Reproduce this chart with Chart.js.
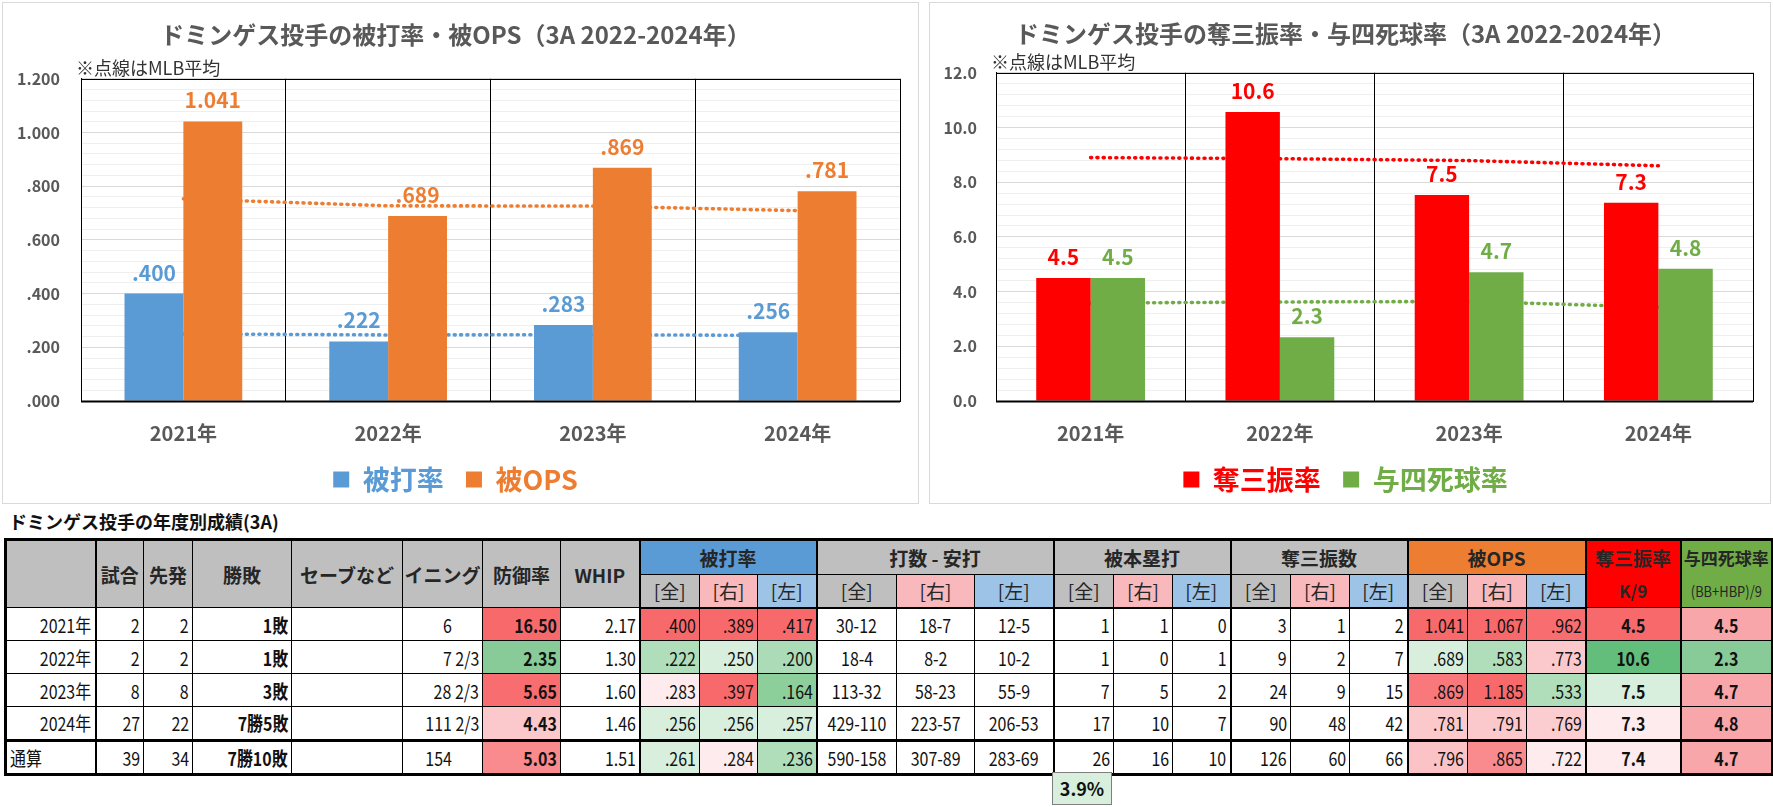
<!DOCTYPE html>
<html lang="ja">
<head>
<meta charset="utf-8">
<title>ドミンゲス投手 3A成績</title>
<script src="https://cdn.jsdelivr.net/npm/chart.js@4.4.1/dist/chart.umd.min.js"></script>
<style>
  body { margin: 0; background: #fff; font-family: 'Liberation Sans Narrow', 'Noto Sans CJK JP', sans-serif; }
  #page { position: relative; width: 1773px; height: 807px; overflow: hidden; }
  .panel { position: absolute; top: 2px; height: 500px; border: 1px solid #d9d9d9; background: #fff; }
  #leftPanel { left: 2px; width: 915px; }
  #rightPanel { left: 929px; width: 840px; }
  .panel canvas { display: block; }
  #tableTitle { position: absolute; left: 9px; top: 509px; font-size: 18px; font-weight: bold; color: #111; line-height: 24px; }
  #stats { position: absolute; left: 4px; top: 538px; border-collapse: collapse; table-layout: fixed; width: 1767px;
           border: 3px solid #000; font-size: 19px; color: #111; }
  #stats td, #stats th { border: 1px solid #000; padding: 0 3px; white-space: nowrap; overflow: hidden; }
  #stats th { background: #bfbfbf; font-weight: bold; font-size: 19px; color: #262626; text-align: center; padding: 0; }
  #stats th.sub { font-weight: normal; }
  #stats .gl { border-left: 2px solid #000; }
  #stats thead tr:last-child th { border-bottom: 2px solid #000; }
  #stats tr.total td { border-top: 3px solid #000; }
  #stats td.r { text-align: right; }
  #stats td.l { text-align: left; }
  #stats td.c { text-align: center; }
  #stats td.b { font-weight: bold; }
  #stats td .n { display: inline-block; transform: scaleX(0.84); }
  #stats td.r .n { transform-origin: right center; }
  #stats td.l .n { transform-origin: left center; }
  #stats td.c .n { transform-origin: center center; }
  .ghost { visibility: hidden; }
  .dual div { height: 33px; line-height: 33px; }
  .narrow { display: inline-block; transform: scaleX(0.86); }
  #hrRate { position: absolute; left: 1052px; top: 772px; width: 60px; height: 33px; box-sizing: border-box;
            border: 1px solid #7f7f7f; background: #d8efdd; font-weight: bold; font-size: 18px; text-align: center; line-height: 31px; color: #111; }
</style>
</head>
<body>
<div id="page">
  <div class="panel" id="leftPanel"><canvas id="avgChart" width="915" height="500"></canvas></div>
  <div class="panel" id="rightPanel"><canvas id="rateChart" width="840" height="500"></canvas></div>
  <div id="tableTitle">ドミンゲス投手の年度別成績(3A)</div>
  <table id="stats"></table>
  <div id="hrRate"></div>
</div>
<script>
// chart data
const years = ['2021年', '2022年', '2023年', '2024年'];
const avgAgainst = [0.400, 0.222, 0.283, 0.256];
const opsAgainst = [1.041, 0.689, 0.869, 0.781];
const mlbAvg = [0.250, 0.246, 0.247, 0.244];
const mlbOps = [0.753, 0.727, 0.726, 0.709];
const strikeoutRate = [4.50, 10.57, 7.53, 7.25];
const walkRate = [4.50, 2.33, 4.71, 4.84];
const mlbStrikeoutRate = [8.90, 8.86, 8.79, 8.60];
const mlbWalkRate = [3.58, 3.62, 3.64, 3.43];

// table data
const tableYears = ['2021年', '2022年', '2023年', '2024年', '通算'];
const games = [2, 2, 8, 27, 39];
const starts = [2, 2, 8, 22, 34];
const winLoss = ['1敗', '1敗', '3敗', '7勝5敗', '7勝10敗'];
const saves = ['', '', '', '', ''];
const innings = ['6', '7 2/3', '28 2/3', '111 2/3', '154'];
const era = ['16.50', '2.35', '5.65', '4.43', '5.03'];
const whip = ['2.17', '1.30', '1.60', '1.46', '1.51'];
const avgAll = ['.400', '.222', '.283', '.256', '.261'];
const avgRight = ['.389', '.250', '.397', '.256', '.284'];
const avgLeft = ['.417', '.200', '.164', '.257', '.236'];
const abHitsAll = ['30-12', '18-4', '113-32', '429-110', '590-158'];
const abHitsRight = ['18-7', '8-2', '58-23', '223-57', '307-89'];
const abHitsLeft = ['12-5', '10-2', '55-9', '206-53', '283-69'];
const hrAll = [1, 1, 7, 17, 26];
const hrRight = [1, 0, 5, 10, 16];
const hrLeft = [0, 1, 2, 7, 10];
const soAll = [3, 9, 24, 90, 126];
const soRight = [1, 2, 9, 48, 60];
const soLeft = [2, 7, 15, 42, 66];
const opsAll = ['1.041', '.689', '.869', '.781', '.796'];
const opsRight = ['1.067', '.583', '1.185', '.791', '.865'];
const opsLeft = ['.962', '.773', '.533', '.769', '.722'];
const k9 = ['4.5', '10.6', '7.5', '7.3', '7.4'];
const bb9 = ['4.5', '2.3', '4.7', '4.8', '4.7'];
const hrRate = '3.9%';

// cell shading (conditional format colours)
const heat = {
    era:      ['#f8696b', '#88cb98', '#f86d70', '#fbc8cb', '#f98b8e'],
    avgAll:   ['#f8696b', '#b0debb', '#fdebee', '#d8efdd', '#d8efdd'],
    avgRight: ['#f8696b', '#d8efdd', '#f8696b', '#d8efdd', '#fdebee'],
    avgLeft:  ['#f8696b', '#acdcb7', '#8ccf9b', '#d8efdd', '#b0debb'],
    opsAll:   ['#f8696b', '#d8efdd', '#f8787b', '#fbc9cc', '#fbc3c6'],
    opsRight: ['#f8696b', '#b0debb', '#f8696b', '#fbc9cc', '#f98a8d'],
    opsLeft:  ['#f86d70', '#fbc9cc', '#b0debb', '#fbcdd0', '#fdebee'],
    k9:       ['#f8696b', '#63be7b', '#d8efdd', '#fdebee', '#fdebee'],
    bb9:      ['#f8a6a9', '#88cb98', '#f8a6a9', '#f8a6a9', '#f8a6a9']
};

const FONT = "'Liberation Sans Narrow', 'Noto Sans CJK JP', sans-serif";
Chart.defaults.font.family = FONT;
Chart.defaults.color = '#595959';

// values above the bars
const barValues = {
    id: 'barValues',
    afterDatasetsDraw(chart, args, opts) {
        const ctx = chart.ctx;
        ctx.save();
        ctx.font = `bold 21px ${FONT}`;
        ctx.textAlign = 'center';
        ctx.textBaseline = 'middle';
        chart.data.datasets.forEach((ds, i) => {
            if (ds.type !== 'bar') return;
            chart.getDatasetMeta(i).data.forEach((bar, j) => {
                ctx.fillStyle = ds.backgroundColor;
                ctx.fillText(opts.format(ds.data[j]), bar.x, bar.y - 21);
            });
        });
        ctx.restore();
    }
};

// black frame round the plot + the note
const plotFrame = {
    id: 'plotFrame',
    afterDatasetsDraw(chart) {
        const { ctx, chartArea: a } = chart;
        ctx.save();
        ctx.strokeStyle = '#000';
        ctx.lineWidth = 1;
        ctx.strokeRect(Math.round(a.left) + 0.5, Math.round(a.top) + 0.5,
            Math.round(a.right - a.left), Math.round(a.bottom - a.top));
        ctx.lineWidth = 2;
        ctx.beginPath();
        ctx.moveTo(a.left, Math.round(a.bottom) + 0.5);
        ctx.lineTo(a.right, Math.round(a.bottom) + 0.5);
        ctx.stroke();
        ctx.fillStyle = '#333';
        ctx.font = `18px ${FONT}`;
        ctx.textAlign = 'left';
        ctx.textBaseline = 'middle';
        ctx.fillText('※点線はMLB平均', a.left - 5, a.top - 11);
        ctx.restore();
    }
};

function dotted(label, data, color) {
    return {
        type: 'line', label: label, data: data, order: 2,
        borderColor: color, borderWidth: 3.6, borderDash: [1, 5.3], borderCapStyle: 'round',
        pointRadius: 0, fill: false, tension: 0
    };
}

function bars(label, data, color) {
    return {
        type: 'bar', label: label, data: data, order: 1,
        backgroundColor: color, categoryPercentage: 0.575, barPercentage: 1.0
    };
}

function chartOptions(o) {
    return {
        responsive: false,
        animation: false,
        layout: { padding: { left: o.padLeft, right: o.padRight, top: 0, bottom: 0 } },
        plugins: {
            title: {
                display: true, text: o.title, color: '#595959',
                font: { size: 24, weight: 'bold' },
                padding: { top: o.titleTop, bottom: o.titleBottom }
            },
            legend: {
                position: 'bottom',
                labels: {
                    boxWidth: 16, boxHeight: 16, padding: 10,
                    font: { size: 27, weight: 'bold' },
                    generateLabels(chart) {
                        const items = Chart.defaults.plugins.legend.labels.generateLabels(chart)
                            .filter(item => chart.data.datasets[item.datasetIndex].type === 'bar');
                        return items.map((item, k) => Object.assign(item, {
                            fontColor: item.fillStyle, lineWidth: 0,
                            text: k < items.length - 1 ? item.text + '  ' : item.text
                        }));
                    }
                }
            },
            tooltip: { enabled: false },
            barValues: { format: o.format }
        },
        scales: {
            x: {
                grid: { color: '#000', lineWidth: 1, drawTicks: false, offset: true, z: 0 },
                border: { color: '#000' },
                ticks: { color: '#595959', font: { size: 20, weight: 'bold' }, padding: 20 },
                afterFit: s => { s.height = 55; }
            },
            y: {
                min: 0, max: o.max,
                ticks: {
                    stepSize: o.step, autoSkip: false, maxTicksLimit: 100, padding: o.tickPad,
                    color: '#595959', font: { size: 16, weight: 'bold' },
                    callback: v => o.isMajor(v) ? o.format(v) : ''
                },
                grid: { drawTicks: false, z: -2, color: c => o.isMajor(c.tick.value) ? '#d9d9d9' : '#efefef' },
                border: { color: '#000' },
                afterFit: s => { s.width = o.axisWidth; }
            }
        }
    };
}

const fmtRate = v => v.toFixed(3).replace(/^0\./, '.');
const fmtOne = v => v.toFixed(1);

new Chart(document.getElementById('avgChart'), {
    type: 'bar',
    data: {
        labels: years,
        datasets: [
            dotted('MLB平均 被打率', mlbAvg, '#5b9bd5'),
            dotted('MLB平均 被OPS', mlbOps, '#ed7d31'),
            bars('被打率', avgAgainst, '#5b9bd5'),
            bars('被OPS', opsAgainst, '#ed7d31')
        ]
    },
    options: chartOptions({
        title: 'ドミンゲス投手の被打率・被OPS（3A 2022-2024年）',
        max: 1.2, step: 0.04,
        isMajor: v => Math.abs(v / 0.2 - Math.round(v / 0.2)) < 1e-6,
        format: fmtRate,
        padLeft: 8, axisWidth: 70, tickPad: 21, padRight: 18, titleTop: 17, titleBottom: 30
    }),
    plugins: [barValues, plotFrame]
});

new Chart(document.getElementById('rateChart'), {
    type: 'bar',
    data: {
        labels: years,
        datasets: [
            dotted('MLB平均 奪三振率', mlbStrikeoutRate, '#ff0000'),
            dotted('MLB平均 与四死球率', mlbWalkRate, '#70ad47'),
            bars('奪三振率', strikeoutRate, '#ff0000'),
            bars('与四死球率', walkRate, '#70ad47')
        ]
    },
    options: chartOptions({
        title: 'ドミンゲス投手の奪三振率・与四死球率（3A 2022-2024年）',
        max: 12, step: 0.4,
        isMajor: v => Math.abs(v / 2 - Math.round(v / 2)) < 1e-6,
        format: fmtOne,
        padLeft: 8, axisWidth: 58, tickPad: 19, padRight: 17, titleTop: 16, titleBottom: 25
    }),
    plugins: [barValues, plotFrame]
});

// table
const colWidths = [90, 48, 49, 99, 111, 80, 78, 79, 60, 58, 59, 80, 78, 79, 60, 59, 58, 60, 59, 58, 60, 59, 59, 95, 92];

function td(text, cls, bg) {
    return `<td class="${cls}"${bg ? ` style="background:${bg}"` : ''}><span class="n">${text}</span></td>`;
}
function inningText(s) {
    return s.indexOf(' ') >= 0 ? s : s + '<span class="ghost">&nbsp;2/3</span>';
}
const sideHeads = () =>
    '<th class="sub gl">[全]</th><th class="sub" style="background:#f8b8bc">[右]</th><th class="sub" style="background:#9dc3e6">[左]</th>';

let html = '<colgroup>' + colWidths.map(w => `<col style="width:${w}px">`).join('') + '</colgroup>';
html += '<thead><tr style="height:34px">' +
    '<th rowspan="2"></th>' +
    '<th rowspan="2" class="gl">試合</th><th rowspan="2">先発</th><th rowspan="2">勝敗</th>' +
    '<th rowspan="2">セーブなど</th><th rowspan="2">イニング</th><th rowspan="2">防御率</th><th rowspan="2">WHIP</th>' +
    '<th colspan="3" class="gl" style="background:#5b9bd5">被打率</th>' +
    '<th colspan="3" class="gl">打数 - 安打</th>' +
    '<th colspan="3" class="gl">被本塁打</th>' +
    '<th colspan="3" class="gl">奪三振数</th>' +
    '<th colspan="3" class="gl" style="background:#ed7d31">被OPS</th>' +
    '<th rowspan="2" class="gl dual" style="background:#ff0000"><div>奪三振率</div><div style="font-size:17px">K/9</div></th>' +
    '<th rowspan="2" class="gl dual" style="background:#70ad47"><div style="font-size:17px">与四死球率</div>' +
    '<div style="font-size:15px;font-weight:normal"><span class="narrow">(BB+HBP)/9</span></div></th>' +
    '</tr><tr style="height:33px">' +
    sideHeads() + sideHeads() + sideHeads() + sideHeads() + sideHeads() +
    '</tr></thead><tbody>';

tableYears.forEach((y, i) => {
    const rowH = i < 3 ? 33 : (i === 3 ? 33.5 : 34);
    html += `<tr style="height:${rowH}px"${i === 4 ? ' class="total"' : ''}>` +
        td(y, i === 4 ? 'l' : 'r') +
        td(games[i], 'r gl') + td(starts[i], 'r') + td(winLoss[i], 'r b') + td(saves[i], 'r') +
        td(inningText(innings[i]), 'r') + td(era[i], 'r b', heat.era[i]) + td(whip[i], 'r') +
        td(avgAll[i], 'r gl', heat.avgAll[i]) + td(avgRight[i], 'r', heat.avgRight[i]) + td(avgLeft[i], 'r', heat.avgLeft[i]) +
        td(abHitsAll[i], 'c gl') + td(abHitsRight[i], 'c') + td(abHitsLeft[i], 'c') +
        td(hrAll[i], 'r gl') + td(hrRight[i], 'r') + td(hrLeft[i], 'r') +
        td(soAll[i], 'r gl') + td(soRight[i], 'r') + td(soLeft[i], 'r') +
        td(opsAll[i], 'r gl', heat.opsAll[i]) + td(opsRight[i], 'r', heat.opsRight[i]) + td(opsLeft[i], 'r', heat.opsLeft[i]) +
        td(k9[i], 'c b gl', heat.k9[i]) + td(bb9[i], 'c b gl', heat.bb9[i]) +
        '</tr>';
});
html += '</tbody>';
document.getElementById('stats').innerHTML = html;
document.getElementById('hrRate').textContent = hrRate;
</script>
</body>
</html>
